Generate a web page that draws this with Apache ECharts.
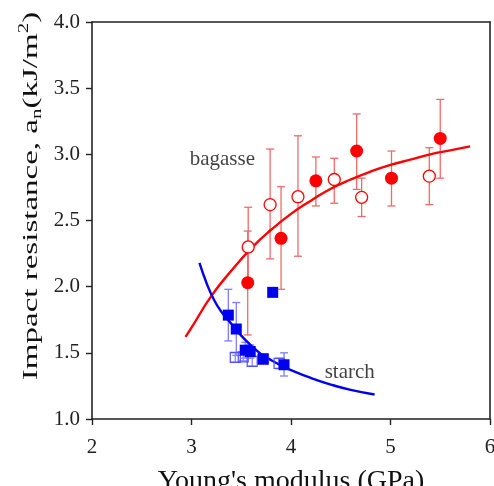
<!DOCTYPE html>
<html lang="en" style="height: 100%">
<head>
  <meta charset="utf-8">
</head>
<body style="height: 100%; margin: 0; background: #fff">
  <div id="container" style="width: 494px; height: 486px"></div>

  <script type="text/javascript" src="https://fastly.jsdelivr.net/npm/echarts@6.0.0/dist/echarts.min.js"></script>
  <script type="text/javascript">
    // bagasse, filled circles
    var bagFilledX  = [3.565, 3.90, 4.25, 4.66, 5.01, 5.50];
    var bagFilledY  = [2.03, 2.365, 2.80, 3.025, 2.82, 3.12];
    var bagFilledLo = [1.635, 1.98, 2.61, 2.735, 2.61, 2.82];
    var bagFilledHi = [2.42, 2.755, 2.98, 3.305, 3.025, 3.415];
    // bagasse, open circles
    var bagOpenX  = [3.57, 3.79, 4.07, 4.435, 4.71, 5.39];
    var bagOpenY  = [2.30, 2.62, 2.68, 2.81, 2.675, 2.835];
    var bagOpenLo = [2.00, 2.21, 2.23, 2.63, 2.53, 2.62];
    var bagOpenHi = [2.60, 3.04, 3.14, 2.97, 2.82, 3.05];
    // starch, filled squares
    var stFilledX  = [3.37, 3.45, 3.54, 3.59, 3.72, 3.93, 3.816];
    var stFilledY  = [1.785, 1.68, 1.52, 1.51, 1.455, 1.41, 1.957];
    var stFilledLo = [1.59, 1.48, 1.46, 1.46, 1.42, 1.325, 1.957];
    var stFilledHi = [1.98, 1.88, 1.58, 1.56, 1.49, 1.50, 1.957];
    // starch, open squares
    var stOpenX  = [3.44, 3.52, 3.61, 3.72, 3.88];
    var stOpenY  = [1.465, 1.47, 1.435, 1.45, 1.42];
    var stOpenLo = [1.43, 1.44, 1.40, 1.42, 1.38];
    var stOpenHi = [1.50, 1.50, 1.47, 1.48, 1.46];
    // fitted curves
    var bagCurveX = [2.94, 3.0, 3.2, 3.4, 3.6, 3.8, 4.0, 4.2, 4.4, 4.6, 4.8, 5.0, 5.2, 5.4, 5.6, 5.8];
    var bagCurveY = [1.62, 1.69, 1.93, 2.12, 2.29, 2.43, 2.55, 2.65, 2.74, 2.81, 2.87, 2.92, 2.96, 3.00, 3.03, 3.06];
    var stCurveX = [3.08, 3.15, 3.22, 3.30, 3.40, 3.50, 3.60, 3.70, 3.80, 3.90, 4.00, 4.20, 4.40, 4.60, 4.84];
    var stCurveY = [2.18, 2.03, 1.91, 1.81, 1.72, 1.63, 1.555, 1.49, 1.445, 1.405, 1.37, 1.31, 1.26, 1.22, 1.185];
    // text labels
    var noteText = ['bagasse', 'starch'];
    var noteX = [3.31, 4.59];
    var noteY = [2.96, 1.35];

    var xTicks = [2, 6, 1];
    var yTicks = [1, 4, 0.5];

    var serif = 'Liberation Serif';

    function zip2(a, b) {
      return a.map(function (v, i) { return [v, b[i]]; });
    }
    function zip3(a, b, c) {
      return a.map(function (v, i) { return [v, b[i], c[i]]; });
    }

    function errorBars(x, lo, hi, color, capW) {
      return {
        type: 'custom',
        silent: true,
        z: 1,
        encode: { x: 0, y: [1, 2] },
        data: zip3(x, lo, hi),
        renderItem: function (params, api) {
          var lowP = api.coord([api.value(0), api.value(1)]);
          var highP = api.coord([api.value(0), api.value(2)]);
          if (Math.abs(lowP[1] - highP[1]) < 0.5) return null;
          var h = capW / 2;
          var st = { stroke: color, lineWidth: 1.3 };
          return {
            type: 'group',
            children: [
              { type: 'line', shape: { x1: lowP[0], y1: lowP[1], x2: highP[0], y2: highP[1] }, style: st },
              { type: 'line', shape: { x1: lowP[0] - h, y1: lowP[1], x2: lowP[0] + h, y2: lowP[1] }, style: st },
              { type: 'line', shape: { x1: highP[0] - h, y1: highP[1], x2: highP[0] + h, y2: highP[1] }, style: st }
            ]
          };
        }
      };
    }

    var dom = document.getElementById('container');
    var myChart = echarts.init(dom, null, { renderer: 'canvas' });

    var option = {
      animation: false,
      backgroundColor: '#fff',
      grid: { left: 92, top: 22, width: 398, height: 397, outerBoundsMode: 'none', containLabel: false },
      // y title is stretched along its length in the original figure
      graphic: [
        {
          type: 'text',
          x: 31, y: 196,
          rotation: Math.PI / 2,
          scaleX: 1.5,
          silent: true,
          style: {
            text: '{m|Impact resistance, a}{sub|n}{m|(kJ/m}{sup|2}{m|)}',
            align: 'center',
            verticalAlign: 'middle',
            fill: '#111',
            font: '22px Liberation Serif',
            rich: {
              m: { fontFamily: serif, fontSize: 22, fill: '#111', lineHeight: 27 },
              sub: { fontFamily: serif, fontSize: 14, fill: '#111', lineHeight: 14, verticalAlign: 'bottom' },
              sup: { fontFamily: serif, fontSize: 14, fill: '#111', lineHeight: 16, verticalAlign: 'top' }
            }
          }
        }
      ],
      xAxis: [
        {
          type: 'value',
          min: xTicks[0], max: xTicks[1], interval: xTicks[2],
          name: "Young's modulus (GPa)",
          nameLocation: 'middle',
          nameGap: 49,
          nameTextStyle: { fontFamily: serif, fontSize: 28, color: '#111' },
          axisLine: { lineStyle: { color: '#222', width: 1.6 } },
          axisTick: { length: 6, lineStyle: { color: '#222', width: 1.4 } },
          axisLabel: { fontFamily: serif, fontSize: 21, color: '#222', margin: 18 },
          splitLine: { show: false }
        },
        {
          type: 'value', position: 'top',
          min: xTicks[0], max: xTicks[1], interval: xTicks[2],
          axisLine: { show: true, lineStyle: { color: '#222', width: 1.6 } },
          axisTick: { show: false }, axisLabel: { show: false }, splitLine: { show: false }
        }
      ],
      yAxis: [
        {
          type: 'value',
          min: yTicks[0], max: yTicks[1], interval: yTicks[2],
          axisLine: { show: true, lineStyle: { color: '#222', width: 1.6 } },
          axisTick: { show: true, length: 6, lineStyle: { color: '#222', width: 1.4 } },
          axisLabel: {
            fontFamily: serif, fontSize: 21, color: '#222', margin: 12,
            formatter: function (v) { return v.toFixed(1); }
          },
          splitLine: { show: false }
        },
        {
          type: 'value', position: 'right',
          min: yTicks[0], max: yTicks[1], interval: yTicks[2],
          axisLine: { show: true, lineStyle: { color: '#222', width: 1.6 } },
          axisTick: { show: false }, axisLabel: { show: false }, splitLine: { show: false }
        }
      ],
      series: [
        errorBars(bagFilledX, bagFilledLo, bagFilledHi, '#f06a6a', 8),
        errorBars(bagOpenX, bagOpenLo, bagOpenHi, '#f06a6a', 8),
        errorBars(stFilledX, stFilledLo, stFilledHi, '#7d7dff', 8),
        errorBars(stOpenX, stOpenLo, stOpenHi, '#8a8aff', 8),
        {
          type: 'line', data: zip2(bagCurveX, bagCurveY), smooth: true,
          symbol: 'none', z: 2, silent: true,
          lineStyle: { color: '#ff0000', width: 2.4 }
        },
        {
          type: 'line', data: zip2(stCurveX, stCurveY), smooth: true,
          symbol: 'none', z: 2, silent: true,
          lineStyle: { color: '#0000f0', width: 2.4 }
        },
        {
          type: 'scatter', data: zip2(stOpenX, stOpenY), z: 3,
          symbol: 'rect', symbolSize: 10,
          itemStyle: { color: 'rgba(255,255,255,0)', borderColor: '#5050ff', borderWidth: 1.2, opacity: 1 }
        },
        {
          type: 'scatter', data: zip2(stFilledX, stFilledY), z: 4,
          symbol: 'rect', symbolSize: 11,
          itemStyle: { color: '#0000f0', opacity: 1 }
        },
        {
          type: 'scatter', data: zip2(bagOpenX, bagOpenY), z: 4,
          symbol: 'circle', symbolSize: 12,
          itemStyle: { color: '#fff', borderColor: '#ff0000', borderWidth: 1.3, opacity: 1 }
        },
        {
          type: 'scatter', data: zip2(bagFilledX, bagFilledY), z: 4,
          symbol: 'circle', symbolSize: 13,
          itemStyle: { color: '#ff0000', opacity: 1 }
        },
        {
          type: 'scatter', silent: true, z: 5,
          symbolSize: 0,
          data: noteText.map(function (t, i) { return { value: [noteX[i], noteY[i]], name: t }; }),
          label: {
            show: true, position: 'inside',
            formatter: function (p) { return p.name; },
            fontFamily: serif, fontSize: 21, color: '#111'
          }
        }
      ]
    };

    myChart.setOption(option);
    window.addEventListener('resize', myChart.resize);
  </script>
</body>
</html>
